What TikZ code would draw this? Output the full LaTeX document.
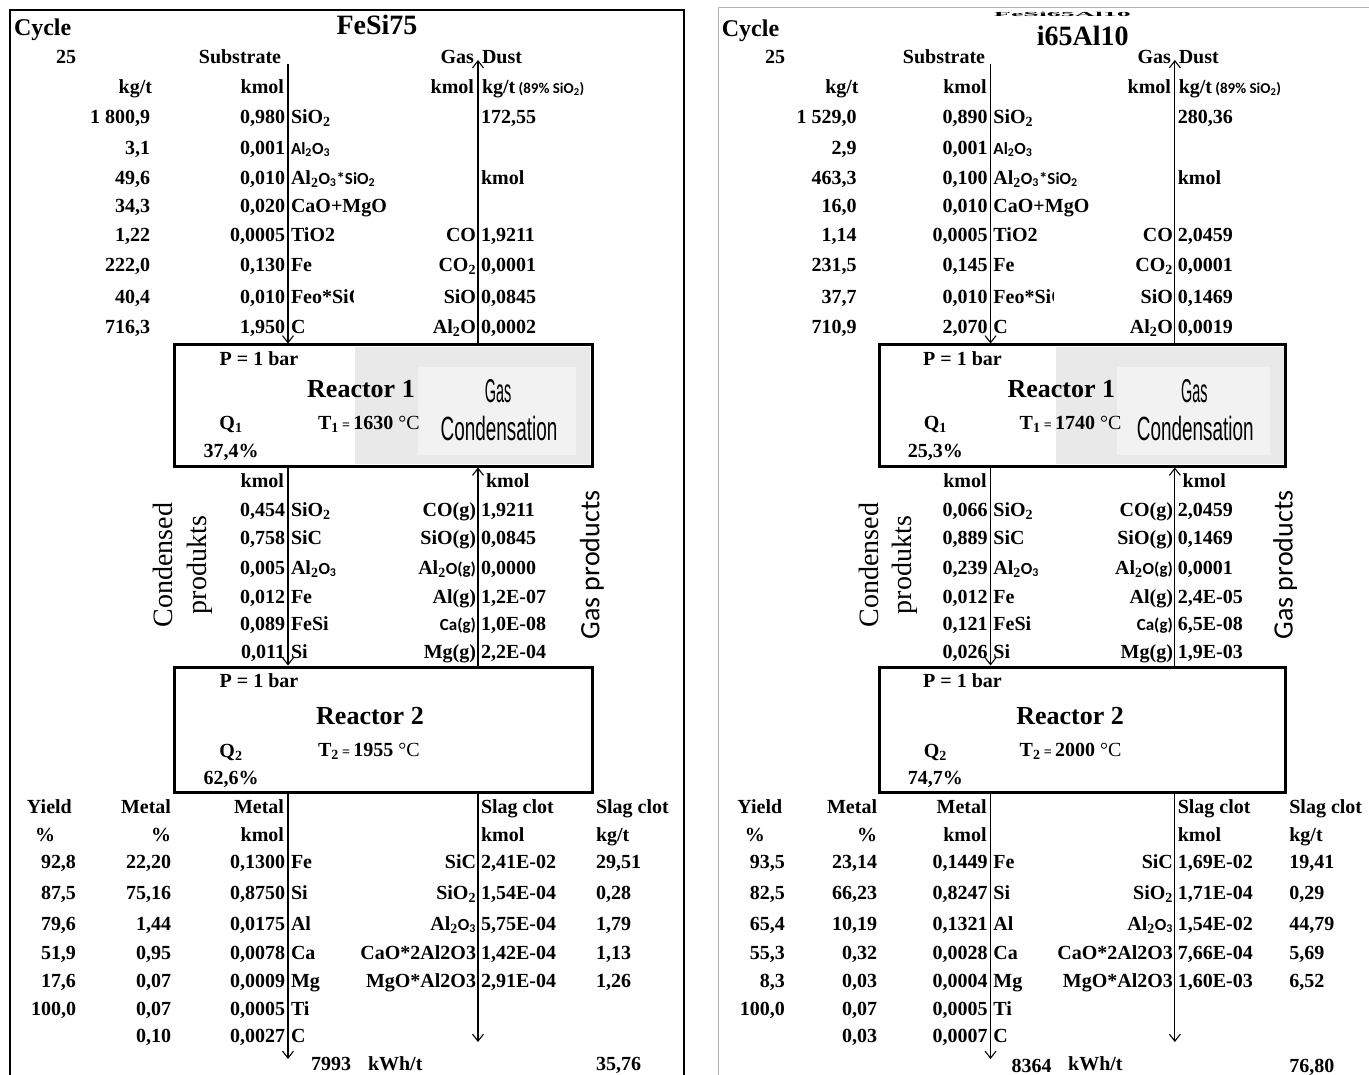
\documentclass[tikz,border=0pt]{standalone}
\usepackage{graphicx}
\usepackage{fontspec}
\setmainfont{Liberation Serif}
\newfontfamily\carl{Carlito}
\newfontfamily\lsans{Liberation Sans}
\usetikzlibrary{arrows.meta,fit}
\definecolor{shA}{HTML}{E9E9E9}
\definecolor{shB}{HTML}{F2F2F2}
\newcommand\lo[1]{\textsubscript{#1}}
\newcommand\cs[1]{{\carl\bfseries\fontsize{17}{18}\selectfont #1}}
\tikzset{
  t/.style={inner sep=0pt, outer sep=0pt, yshift=-5pt, font=\bfseries\fontsize{20}{22}\selectfont},
  r/.style={t, anchor=mid east},
  l/.style={t, anchor=mid west},
  c/.style={t, anchor=mid},
  big/.style={c, font=\bfseries\fontsize{26}{28}\selectfont},
  ttl/.style={c, font=\bfseries\fontsize{28}{30}\selectfont},
  flow/.style={line width=1.1pt, -{Straight Barb[length=7pt,width=11pt]}},
  reactor/.style={draw, line width=3pt, inner sep=0pt},
  rot/.style={inner sep=0pt, rotate=90, anchor=mid, font=\fontsize{28}{30}\selectfont},
  narrow/.style={inner sep=0pt, anchor=center, font=\lsans\fontsize{30}{32}\selectfont},
}
\newcommand\col[4]{\foreach \v/\y [count=\i] in {#4} {\node[#1] (#2\i) at (#3,\y) {\v};}}
\newcommand\panelbase{%
  \fill[shA] (355,347) rectangle (590,464);
  \fill[shB] (418,367) rectangle (576,455);
  \node[reactor, fit={(174,345) (592,466)}] (R1) {};
  \node[reactor, fit={(174,667) (592,792)}] (R2) {};
  \coordinate (subTop) at (288,64);
  \coordinate (gasTop) at (478,60);
  \coordinate (metEnd) at (288,1059);
  \coordinate (slagEnd) at (478,1042);
  \draw[flow] (subTop) -- (subTop |- R1.north);
  \draw[flow] (gasTop |- R1.north) -- (gasTop);
  \draw[flow] (subTop |- R1.south) -- (subTop |- R2.north);
  \draw[flow] (gasTop |- R2.north) -- (gasTop |- R1.south);
  \draw[flow] (subTop |- R2.south) -- (metEnd);
  \draw[flow] (gasTop |- R2.south) -- (slagEnd);
  % headers
  \node[c] (hSub) at (240,56) {Substrate};
  \node[r] (hGas) at (474,56) {Gas};
  \node[l] (hDust) at (482,56) {Dust};
  \node[r] (hKg) at (152,86) {kg/t};
  \node[r] (hKm1) at (284,86) {kmol};
  \node[r] (hKm2) at (474,86) {kmol};
  \node[l] (hKg2) at (482,86) {kg/t\,{\carl\fontsize{15}{16}\selectfont (89\% SiO\lo{2})}};
  % substrate names
  \node[l] (s1) at (291,116) {SiO\lo{2}};
  \node[l] (s2) at (291,147) {\cs{Al\lo{2}O\lo{3}}};
  \node[l] (s3) at (291,177) {Al\lo{2}\cs{O\lo{3}*SiO\lo{2}}};
  \node[l] (s4) at (291,205) {CaO+MgO};
  \node[l] (s5) at (291,234) {TiO2};
  \node[l] (s6) at (291,264) {Fe};
  \begin{scope}
    \clip (289,280) rectangle (353,315);
    \node[l] (s7) at (291,296) {Feo*SiO\lo{2}};
  \end{scope}
  \node[l] (s8) at (291,326) {C};
  % gas names top
  \node[l] (gk) at (481,177) {kmol};
  \node[r] (g1) at (476,234) {CO};
  \node[r] (g2) at (476,264) {CO\lo{2}};
  \node[r] (g3) at (476,296) {SiO};
  \node[r] (g4) at (476,326) {Al\lo{2}O};
  % reactor 1
  \node[c] (p1) at (259,358) {P = 1 bar};
  \node[big] (n1) at (361,390) {Reactor 1};
  \node[narrow] (gc1) at (498,391) {\scalebox{0.48}[1.1]{Gas}};
  \node[narrow] (gc2) at (499,428) {\scalebox{0.63}[1.12]{Condensation}};
  \node[c] (q1) at (231,422) {Q\lo{1}};
  % middle
  \node[r] (mk1) at (284,480) {kmol};
  \node[l] (mk2) at (486,480) {kmol};
  \node[l] (c1) at (291,509) {SiO\lo{2}};
  \node[l] (c2) at (291,537) {SiC};
  \node[l] (c3) at (291,567) {Al\lo{2}\cs{O\lo{3}}};
  \node[l] (c4) at (291,596) {Fe};
  \node[l] (c5) at (291,623) {FeSi};
  \node[l] (c6) at (291,651) {Si};
  \node[r] (d1) at (476,509) {CO(g)};
  \node[r] (d2) at (476,537) {SiO(g)};
  \node[r] (d3) at (476,567) {Al\lo{2}\cs{O(g)}};
  \node[r] (d4) at (476,596) {Al(g)};
  \node[r] (d5) at (476,623) {\cs{Ca(g)}};
  \node[r] (d6) at (476,651) {Mg(g)};
  \node[rot] (cdn) at (170,565) {Condensed};
  \node[rot] (prd) at (204,565) {produkts};
  \node[rot, font=\carl\fontsize{28}{30}\selectfont] (gpr) at (597,565) {Gas products};
  % reactor 2
  \node[c] (p2) at (259,680) {P = 1 bar};
  \node[big] (n2) at (370,717) {Reactor 2};
  \node[c] (q2) at (231,750) {Q\lo{2}};
  % bottom headers
  \node[l] (yh) at (27,806) {Yield};
  \node[c] (yp) at (45,834) {\%};
  \node[r] (mh) at (171,806) {Metal};
  \node[r] (mp) at (171,834) {\%};
  \node[r] (mkh) at (284,806) {Metal};
  \node[r] (mkk) at (284,834) {kmol};
  \node[l] (sh) at (481,806) {Slag clot};
  \node[l] (sk) at (481,834) {kmol};
  \node[l] (sh2) at (596,806) {Slag clot};
  \node[l] (skg) at (596,834) {kg/t};
  \col{l}{el}{291}{Fe/861,Si/892,Al/923,Ca/952,Mg/980,Ti/1008,C/1035}
  \node[r] (sl1) at (476,861) {SiC};
  \node[r] (sl2) at (476,892) {SiO\lo{2}};
  \node[r] (sl3) at (476,923) {Al\lo{2}\cs{O\lo{3}}};
  \node[r] (sl4) at (476,952) {CaO*2Al2O3};
  \node[r] (sl5) at (476,980) {MgO*Al2O3};
  \node[l] (kwh) at (368,1063) {kWh/t};
}
\begin{document}
\begin{tikzpicture}[x=1pt, y=-1pt]
\useasboundingbox (0,0) rectangle (1369,1075);
\fill[white] (0,0) rectangle (1369,1075);
% frames
\draw[line width=2pt] (10,1076) -- (10,10) -- (684,10) -- (684,1076);
\draw[black!30, line width=1pt] (718,1076) -- (718,8) -- (1370,8);
% ---------------- left panel
\begin{scope}[name prefix=L-]
  \panelbase
  \node[l, font=\bfseries\fontsize{24}{26}\selectfont] (cyc) at (14,28) {Cycle};
  \node[ttl] (title) at (377,27) {FeSi75};
  \node[c] (cyn) at (66,56) {25};
  \col{r}{kg}{150}{{1 800,9}/116,{3,1}/147,{49,6}/177,{34,3}/205,{1,22}/234,{222,0}/264,{40,4}/296,{716,3}/326}
  \col{r}{km}{285}{{0,980}/116,{0,001}/147,{0,010}/177,{0,020}/205,{0,0005}/234,{0,130}/264,{0,010}/296,{1,950}/326}
  \col{l}{gv}{481}{{172,55}/116,{1,9211}/234,{0,0001}/264,{0,0845}/296,{0,0002}/326}
  \node[c] (q1v) at (231,450) {37,4\%};
  \node[l] (t1) at (318,422) {T\lo{1}\,{\fontsize{14}{14}\selectfont=}\,1630 \textmd{°C}};
  \col{r}{cv}{285}{{0,454}/509,{0,758}/537,{0,005}/567,{0,012}/596,{0,089}/623,{0,011}/651}
  \col{l}{dv}{481}{{1,9211}/509,{0,0845}/537,{0,0000}/567,{1,2E-07}/596,{1,0E-08}/623,{2,2E-04}/651}
  \node[c] (q2v) at (231,777) {62,6\%};
  \node[l] (t2) at (318,749) {T\lo{2}\,{\fontsize{14}{14}\selectfont=}\,1955 \textmd{°C}};
  \col{r}{yv}{76}{{92,8}/861,{87,5}/892,{79,6}/923,{51,9}/952,{17,6}/980,{100,0}/1008}
  \col{r}{mv}{171}{{22,20}/861,{75,16}/892,{1,44}/923,{0,95}/952,{0,07}/980,{0,07}/1008,{0,10}/1035}
  \col{r}{mk}{285}{{0,1300}/861,{0,8750}/892,{0,0175}/923,{0,0078}/952,{0,0009}/980,{0,0005}/1008,{0,0027}/1035}
  \col{l}{sv}{481}{{2,41E-02}/861,{1,54E-04}/892,{5,75E-04}/923,{1,42E-04}/952,{2,91E-04}/980}
  \col{l}{sg}{596}{{29,51}/861,{0,28}/892,{1,79}/923,{1,13}/952,{1,26}/980}
  \node[r] (en) at (351,1063) {7993};
  \node[l] (sgt) at (596,1063) {35,76};
\end{scope}
% ---------------- right panel
\begin{scope}[name prefix=R-, xshift=711.2pt, xscale=0.97]
  \panelbase
  \node[l, font=\bfseries\fontsize{24}{26}\selectfont] (cyc) at (11,29) {Cycle};
  \node[inner sep=0pt, anchor=north, font=\bfseries\fontsize{28}{30}\selectfont] (title0) at (362,12) {\scalebox{1}[0.22]{FeSi65Al10}};
  \node[ttl] (title) at (383,38) {i65Al10};
  \node[c] (cyn) at (66,56) {25};
  \col{r}{kg}{150}{{1 529,0}/116,{2,9}/147,{463,3}/177,{16,0}/205,{1,14}/234,{231,5}/264,{37,7}/296,{710,9}/326}
  \col{r}{km}{285}{{0,890}/116,{0,001}/147,{0,100}/177,{0,010}/205,{0,0005}/234,{0,145}/264,{0,010}/296,{2,070}/326}
  \col{l}{gv}{481}{{280,36}/116,{2,0459}/234,{0,0001}/264,{0,1469}/296,{0,0019}/326}
  \node[c] (q1v) at (231,450) {25,3\%};
  \node[l] (t1) at (318,422) {T\lo{1}\,{\fontsize{14}{14}\selectfont=}\,1740 \textmd{°C}};
  \col{r}{cv}{285}{{0,066}/509,{0,889}/537,{0,239}/567,{0,012}/596,{0,121}/623,{0,026}/651}
  \col{l}{dv}{481}{{2,0459}/509,{0,1469}/537,{0,0001}/567,{2,4E-05}/596,{6,5E-08}/623,{1,9E-03}/651}
  \node[c] (q2v) at (231,777) {74,7\%};
  \node[l] (t2) at (318,749) {T\lo{2}\,{\fontsize{14}{14}\selectfont=}\,2000 \textmd{°C}};
  \col{r}{yv}{76}{{93,5}/861,{82,5}/892,{65,4}/923,{55,3}/952,{8,3}/980,{100,0}/1008}
  \col{r}{mv}{171}{{23,14}/861,{66,23}/892,{10,19}/923,{0,32}/952,{0,03}/980,{0,07}/1008,{0,03}/1035}
  \col{r}{mk}{285}{{0,1449}/861,{0,8247}/892,{0,1321}/923,{0,0028}/952,{0,0004}/980,{0,0005}/1008,{0,0007}/1035}
  \col{l}{sv}{481}{{1,69E-02}/861,{1,71E-04}/892,{1,54E-02}/923,{7,66E-04}/952,{1,60E-03}/980}
  \col{l}{sg}{596}{{19,41}/861,{0,29}/892,{44,79}/923,{5,69}/952,{6,52}/980}
  \node[r] (en) at (351,1065) {8364};
  \node[l] (sgt) at (596,1065) {76,80};
\end{scope}
\end{tikzpicture}
\end{document}
